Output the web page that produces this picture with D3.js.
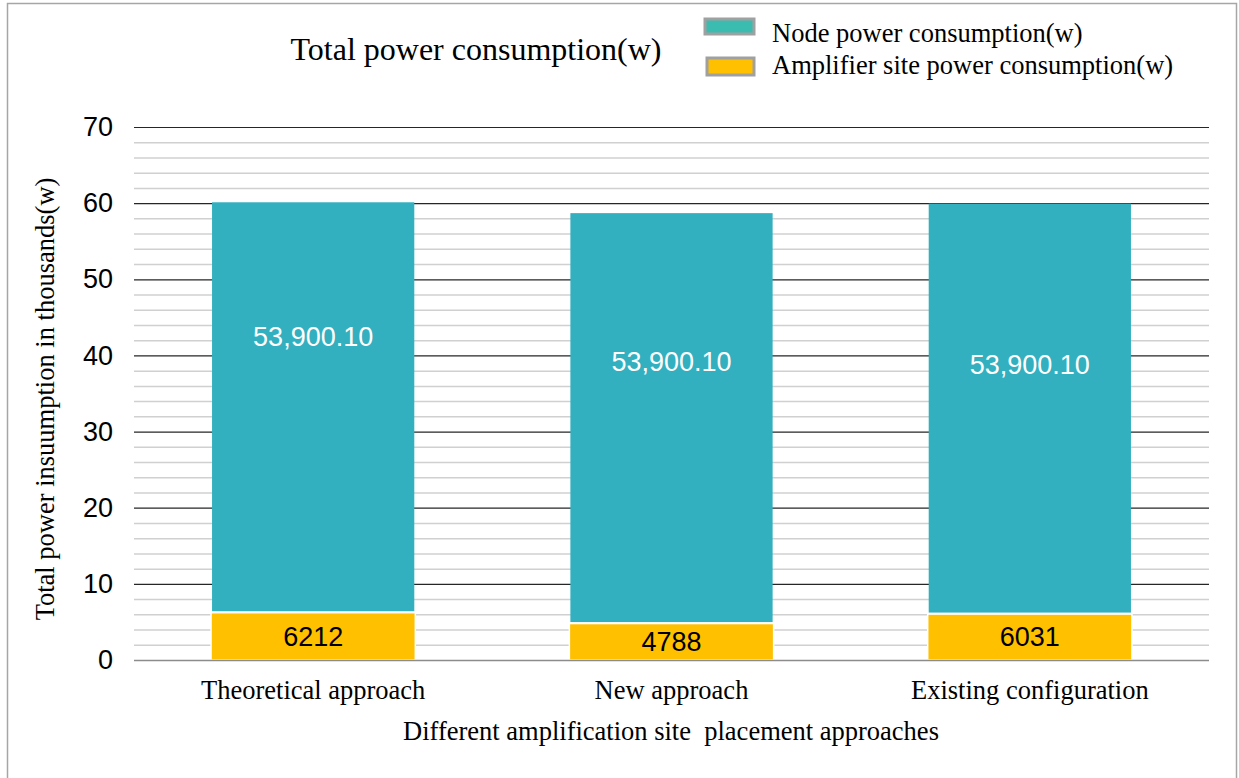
<!DOCTYPE html>
<html>
<head>
<meta charset="utf-8">
<script src="https://cdn.jsdelivr.net/npm/d3@7"></script>
<style>
  body { margin: 0; background: #fff; }
  svg { display: block; }
</style>
</head>
<body>
<script>
//chart data (thousands of watts)
var categories = ["Theoretical approach", "New approach", "Existing configuration"];
var nodePower = [53.9001, 53.9001, 53.9001];
var ampPower = [6.212, 4.788, 6.031];
var nodeLabels = ["53,900.10", "53,900.10", "53,900.10"];
var ampLabels = ["6212", "4788", "6031"];
//where Excel put the node labels, in axis units
var nodeLabelAt = [42.5, 39.2, 38.8];
var yTicks = [0, 10, 20, 30, 40, 50, 60, 70];
var minorTicks = d3.range(0, 71, 2);

(function draw(){
  var width = 1239, height = 778;
  var serif = "'Liberation Serif', 'Times New Roman', serif";
  var sans = "'Liberation Sans', Arial, sans-serif";
  var teal = "#32b0bf", gold = "#ffc000";

  var svg = d3.select("body").append("svg")
    .attr("width", width)
    .attr("height", height);

  //outer frame
  svg.append("rect")
    .attr("x", 7.5).attr("y", 3.5)
    .attr("width", 1229).attr("height", 790)
    .attr("fill", "#fff")
    .attr("stroke", "#a6a6a6")
    .attr("stroke-width", 1.5);

  var left = 134, right = 1209, top = 127, bottom = 660;

  var x = d3.scaleBand()
    .domain(categories)
    .range([left, right])
    .paddingInner(0.43)
    .paddingOuter(0.215);

  var y = d3.scaleLinear()
    .domain([0, 70])
    .range([bottom, top]);

  //minor gridlines
  svg.append("g").selectAll("line")
    .data(minorTicks.filter(function(d){ return d % 10 !== 0; }))
    .enter().append("line")
    .attr("x1", left).attr("x2", right)
    .attr("y1", function(d){ return y(d) + 0.5; })
    .attr("y2", function(d){ return y(d) + 0.5; })
    .attr("stroke", "#d0d0d0")
    .attr("stroke-width", 1.5);

  //major gridlines
  svg.append("g").selectAll("line")
    .data(yTicks.slice(1))
    .enter().append("line")
    .attr("x1", left).attr("x2", right)
    .attr("y1", function(d){ return y(d) + 0.5; })
    .attr("y2", function(d){ return y(d) + 0.5; })
    .attr("stroke", "#262626")
    .attr("stroke-width", 1.2);

  //bars
  var bars = svg.append("g");
  bars.selectAll(".amp")
    .data(categories)
    .enter().append("rect")
    .attr("class", "amp")
    .attr("x", function(d){ return x(d); })
    .attr("width", x.bandwidth())
    .attr("y", function(d, i){ return y(ampPower[i]); })
    .attr("height", function(d, i){ return y(0) - y(ampPower[i]); })
    .attr("fill", gold)
    .attr("stroke", "#fff")
    .attr("stroke-width", 1.5);

  bars.selectAll(".node")
    .data(categories)
    .enter().append("rect")
    .attr("class", "node")
    .attr("x", function(d){ return x(d) + 1; })
    .attr("width", x.bandwidth() - 2)
    .attr("y", function(d, i){ return y(ampPower[i] + nodePower[i]); })
    .attr("height", function(d, i){ return y(ampPower[i]) - y(ampPower[i] + nodePower[i]) - 1.5; })
    .attr("fill", teal);

  //baseline
  svg.append("line")
    .attr("x1", left).attr("x2", right)
    .attr("y1", y(0) + 0.5).attr("y2", y(0) + 0.5)
    .attr("stroke", "#8c8c8c")
    .attr("stroke-width", 1.5);

  //value labels
  svg.append("g").selectAll("text")
    .data(categories)
    .enter().append("text")
    .attr("x", function(d){ return x(d) + x.bandwidth() / 2; })
    .attr("y", function(d, i){ return y(nodeLabelAt[i]); })
    .attr("dy", "0.35em")
    .attr("text-anchor", "middle")
    .attr("font-family", sans)
    .attr("font-size", 27)
    .attr("fill", "#fff")
    .text(function(d, i){ return nodeLabels[i]; });

  svg.append("g").selectAll("text")
    .data(categories)
    .enter().append("text")
    .attr("x", function(d){ return x(d) + x.bandwidth() / 2; })
    .attr("y", function(d, i){ return y(ampPower[i] / 2); })
    .attr("dy", "0.35em")
    .attr("text-anchor", "middle")
    .attr("font-family", sans)
    .attr("font-size", 27)
    .attr("fill", "#000")
    .text(function(d, i){ return ampLabels[i]; });

  //y axis tick labels
  var yAxis = svg.append("g")
    .attr("transform", "translate(113,0)")
    .call(d3.axisLeft(y).tickValues(yTicks).tickSize(0).tickPadding(0));
  yAxis.select(".domain").remove();
  yAxis.selectAll("text")
    .attr("font-family", sans)
    .attr("font-size", 27)
    .attr("fill", "#000");

  //x axis category labels
  var xAxis = svg.append("g")
    .attr("transform", "translate(0," + bottom + ")")
    .call(d3.axisBottom(x).tickSize(0).tickPadding(20));
  xAxis.select(".domain").remove();
  xAxis.selectAll("text")
    .attr("font-family", serif)
    .attr("font-size", 26.5)
    .attr("fill", "#000");

  //axis titles
  svg.append("text")
    .attr("x", 671).attr("y", 740)
    .attr("text-anchor", "middle")
    .attr("font-family", serif)
    .attr("font-size", 26.5)
    .style("white-space", "pre")
    .text("Different amplification site  placement approaches");

  svg.append("text")
    .attr("transform", "translate(54,399) rotate(-90)")
    .attr("text-anchor", "middle")
    .attr("font-family", serif)
    .attr("font-size", 26.5)
    .text("Total power insuumption in thousands(w)");

  //title
  svg.append("text")
    .attr("x", 476).attr("y", 60)
    .attr("text-anchor", "middle")
    .attr("font-family", serif)
    .attr("font-size", 32)
    .text("Total power consumption(w)");

  //legend
  var legendNames = ["Node power consumption(w)", "Amplifier site power consumption(w)"];
  var legendColors = ["#3bbcb1", gold];
  var legend = svg.append("g").selectAll("g")
    .data(legendNames)
    .enter().append("g");
  legend.append("rect")
    .attr("x", function(d, i){ return 705 + i * 2; })
    .attr("y", function(d, i){ return i ? 58 : 19; })
    .attr("width", function(d, i){ return 49 - i * 2; })
    .attr("height", function(d, i){ return i ? 17 : 15; })
    .attr("fill", function(d, i){ return legendColors[i]; })
    .attr("stroke", "#a0a0a0")
    .attr("stroke-width", 3);
  legend.append("text")
    .attr("x", 772)
    .attr("y", function(d, i){ return 42 + i * 32; })
    .attr("font-family", serif)
    .attr("font-size", 26.5)
    .text(function(d){ return d; });
})();
</script>
</body>
</html>
